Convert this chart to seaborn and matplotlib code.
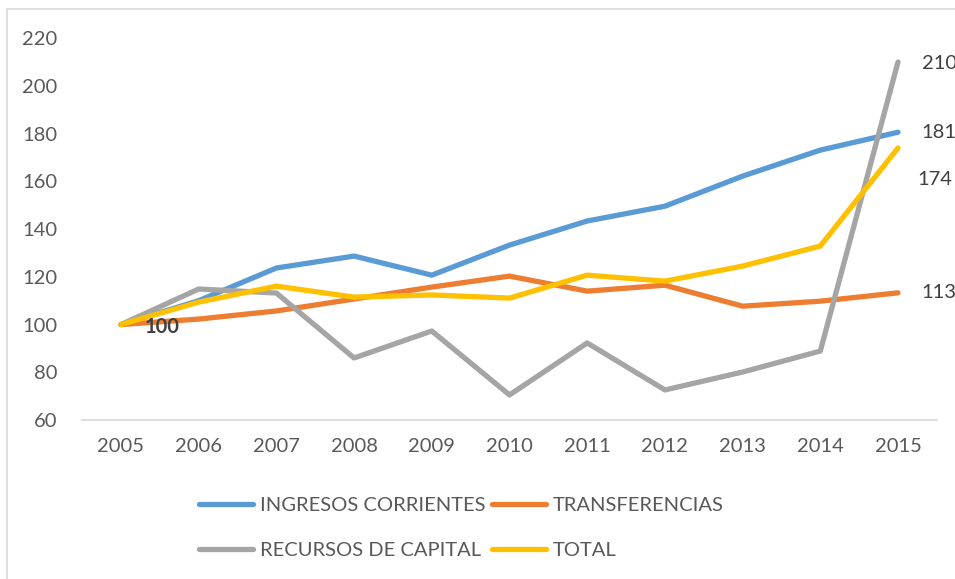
import numpy as np
import pandas as pd
import seaborn as sns
import matplotlib.pyplot as plt
from matplotlib.patches import Rectangle

sns.set_style("white")
plt.rcParams['font.family'] = ['Lato', 'DejaVu Sans']

years = [2005, 2006, 2007, 2008, 2009, 2010, 2011, 2012, 2013, 2014, 2015]
ingresos = [100, 110, 123.7, 128.7, 120.7, 133.3, 143.4, 149.6, 162.2, 173.1, 180.6]
transferencias = [100, 102.3, 105.7, 110.7, 115.7, 120.3, 114.0, 116.5, 107.7, 109.8, 113.3]
recursos = [100, 114.9, 113.2, 86.0, 97.3, 70.5, 92.3, 72.6, 80.1, 88.9, 210.0]
total = [100, 109.4, 116.1, 111.5, 112.4, 111.1, 120.7, 118.2, 124.5, 132.9, 174.0]

series = ["INGRESOS CORRIENTES", "TRANSFERENCIAS", "RECURSOS DE CAPITAL", "TOTAL"]
colors = ["#5B9BD5", "#ED7D31", "#A5A5A5", "#FFC000"]

df = pd.DataFrame({
    "year": years * 4,
    "value": ingresos + transferencias + recursos + total,
    "serie": np.repeat(series, len(years)),
})

fs = 14.5
lw = 3.8

fig = plt.figure(figsize=(9.55, 5.79), dpi=100)
ax = fig.add_axes([0.086, 0.2746, 0.895, 0.6594])
sns.lineplot(data=df, x="year", y="value", hue="serie", hue_order=series,
             palette=colors, linewidth=lw, ax=ax, legend=False,
             solid_capstyle="round", solid_joinstyle="round")

ax.set_xlim(2004.5, 2015.5)
ax.set_ylim(60, 220)
ax.set_xticks(years)
ax.set_yticks(range(60, 221, 20))
ax.set_xlabel("")
ax.set_ylabel("")
ax.tick_params(length=0, labelsize=fs, labelcolor="#595959")
ax.tick_params(axis="y", pad=18)
ax.tick_params(axis="x", pad=13)
for s in ["left", "right", "top"]:
    ax.spines[s].set_visible(False)
ax.spines["bottom"].set_color("#D9D9D9")
ax.spines["bottom"].set_linewidth(1.2)

# data labels
lab = dict(fontsize=fs, color="#404040", va="center", ha="left",
           textcoords="offset points", annotation_clip=False)
ax.annotate("100", (years[0], ingresos[0]), xytext=(17, -2), fontweight="bold", **lab)
ax.annotate(f"{recursos[-1]:.0f}", (years[-1], recursos[-1]), xytext=(17, -1), **lab)
ax.annotate(f"{ingresos[-1]:.0f}", (years[-1], ingresos[-1]), xytext=(17, 0), **lab)
ax.annotate(f"{total[-1]:.0f}", (years[-1], total[-1]), xytext=(14, -23), **lab)
ax.annotate(f"{transferencias[-1]:.0f}", (years[-1], transferencias[-1]), xytext=(17, 0), **lab)

# legend
handles = [plt.Line2D([], [], color=c, linewidth=lw) for c in colors]
order = [0, 2, 1, 3]
leg = fig.legend([handles[i] for i in order], [series[i] for i in order],
                 ncol=2, loc="center", bbox_to_anchor=(0.483, 0.088),
                 frameon=False, fontsize=fs, handlelength=2.7,
                 handletextpad=0.35, columnspacing=0.3, labelspacing=1.4)
for t in leg.get_texts():
    t.set_color("#595959")

# chart area border
fig.patches.append(Rectangle((7 / 955, -0.05), 1.1, 1 - 9 / 579 + 0.05,
                             transform=fig.transFigure, fill=False,
                             edgecolor="#D9D9D9", linewidth=1.2))

fig.savefig("out.png", dpi=100)
